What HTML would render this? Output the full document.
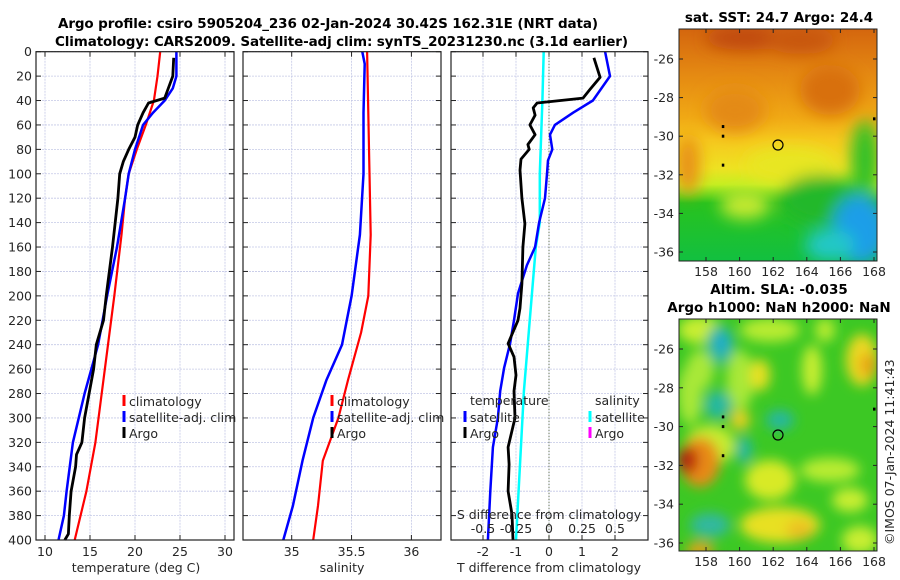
<!DOCTYPE html>
<html><head><meta charset="utf-8"><style>
html,body{margin:0;padding:0;background:#fff;}
svg{display:block;font-family:"DejaVu Sans","Liberation Sans",sans-serif;}
.t{font-size:12.5px;fill:#262626;}
.b{font-size:13.5px;font-weight:bold;fill:#000;}
</style></head><body>
<svg id="fig" width="900" height="580" viewBox="0 0 900 580" xmlns="http://www.w3.org/2000/svg">
<defs>
<filter id="bl" x="-30%" y="-30%" width="160%" height="160%"><feGaussianBlur stdDeviation="8"/></filter>
<filter id="bl2" x="-30%" y="-30%" width="160%" height="160%"><feGaussianBlur stdDeviation="6"/></filter>
<clipPath id="c1"><rect x="679" y="29" width="198" height="232"/></clipPath>
<clipPath id="c2"><rect x="679" y="319" width="198" height="232"/></clipPath>
<linearGradient id="sstg" x1="0" y1="0" x2="0" y2="1">
<stop offset="0" stop-color="#d4660e"/><stop offset="0.2" stop-color="#e58a12"/>
<stop offset="0.38" stop-color="#f0a814"/><stop offset="0.48" stop-color="#f6c81e"/>
<stop offset="0.6" stop-color="#eee222"/><stop offset="0.67" stop-color="#c6ee22"/>
<stop offset="0.75" stop-color="#28c21e"/><stop offset="1" stop-color="#12c040"/>
</linearGradient>
</defs>
<text class="b" x="58" y="28" textLength="540">Argo profile: csiro 5905204_236 02-Jan-2024 30.42S 162.31E (NRT data)</text>
<text class="b" x="55" y="46" textLength="573">Climatology: CARS2009. Satellite-adj clim: synTS_20231230.nc (3.1d earlier)</text>
<g id="g1"></g>
<g id="g2"></g>
<g id="g3"></g>

<g>
<g clip-path="url(#c1)">
<rect x="679" y="29" width="198" height="232" fill="url(#sstg)"/>
<g filter="url(#bl)">
<ellipse cx="745" cy="38" rx="40" ry="12" fill="#c04a0c"/>
<ellipse cx="800" cy="40" rx="35" ry="14" fill="#c8560c"/>
<ellipse cx="830" cy="90" rx="30" ry="25" fill="#d8700e"/>
<ellipse cx="735" cy="110" rx="30" ry="22" fill="#e48a12"/>
<ellipse cx="688" cy="165" rx="12" ry="30" fill="#e89014"/>
<ellipse cx="790" cy="165" rx="45" ry="18" fill="#e8e622"/>
<ellipse cx="820" cy="200" rx="40" ry="25" fill="#20b82a"/>
<ellipse cx="865" cy="160" rx="14" ry="40" fill="#30c028"/>
<ellipse cx="745" cy="205" rx="25" ry="14" fill="#c8ea30"/>
<ellipse cx="860" cy="230" rx="28" ry="35" fill="#1c9ee8"/>
<ellipse cx="830" cy="245" rx="25" ry="16" fill="#20c8c8"/>
</g>
</g>
<rect x="679" y="29" width="198" height="232" fill="none" stroke="#222" stroke-width="1"/>
<circle cx="778" cy="145" r="5" fill="none" stroke="#000" stroke-width="1.2"/>
<text class="b" x="779" y="22" text-anchor="middle">sat. SST: 24.7 Argo: 24.4</text>
</g>

<g>
<g clip-path="url(#c2)">
<rect x="679" y="319" width="198" height="232" fill="#3cc824"/>
<g filter="url(#bl2)">
<ellipse cx="700" cy="330" rx="22" ry="14" fill="#c8ee30"/>
<ellipse cx="720" cy="345" rx="14" ry="20" fill="#28b89c"/>
<ellipse cx="722" cy="343" rx="6" ry="9" fill="#22a8d8"/>
<ellipse cx="770" cy="330" rx="30" ry="12" fill="#b8ec30"/>
<ellipse cx="825" cy="330" rx="10" ry="12" fill="#b8ec30"/>
<ellipse cx="862" cy="360" rx="16" ry="26" fill="#ecd820"/>
<ellipse cx="868" cy="365" rx="8" ry="12" fill="#e8a018"/>
<ellipse cx="740" cy="380" rx="14" ry="30" fill="#a8e838"/>
<ellipse cx="700" cy="370" rx="14" ry="20" fill="#a8e838"/>
<ellipse cx="760" cy="375" rx="10" ry="16" fill="#e8e020"/>
<ellipse cx="812" cy="370" rx="10" ry="25" fill="#c8ee30"/>
<ellipse cx="690" cy="395" rx="12" ry="30" fill="#a8e838"/>
<ellipse cx="718" cy="405" rx="14" ry="14" fill="#28b8a0"/>
<ellipse cx="740" cy="420" rx="10" ry="10" fill="#ecd020"/>
<ellipse cx="780" cy="420" rx="14" ry="10" fill="#28b8a0"/>
<ellipse cx="710" cy="445" rx="25" ry="20" fill="#c8ec30"/>
<ellipse cx="700" cy="462" rx="20" ry="25" fill="#e88a18"/>
<ellipse cx="688" cy="460" rx="10" ry="14" fill="#b8200a"/>
<ellipse cx="744" cy="450" rx="8" ry="14" fill="#28b8a0"/>
<ellipse cx="770" cy="480" rx="25" ry="20" fill="#d8ea28"/>
<ellipse cx="830" cy="470" rx="30" ry="12" fill="#b8ec30"/>
<ellipse cx="850" cy="500" rx="18" ry="12" fill="#c8ee30"/>
<ellipse cx="710" cy="525" rx="20" ry="12" fill="#30b8a0"/>
<ellipse cx="780" cy="525" rx="40" ry="18" fill="#e8e020"/>
<ellipse cx="800" cy="530" rx="14" ry="10" fill="#ecc020"/>
<ellipse cx="700" cy="550" rx="14" ry="8" fill="#e8a018"/>
<ellipse cx="860" cy="540" rx="18" ry="14" fill="#c8ee30"/>
</g>
</g>
<rect x="679" y="319" width="198" height="232" fill="none" stroke="#222" stroke-width="1"/>
<circle cx="778" cy="435" r="5" fill="none" stroke="#000" stroke-width="1.2"/>
<text class="b" x="779" y="294" text-anchor="middle">Altim. SLA: -0.035</text>
<text class="b" x="779" y="312" text-anchor="middle">Argo h1000: NaN h2000: NaN</text>
</g>
<text class="t" transform="translate(894,545) rotate(-90)">©IMOS 07-Jan-2024 11:41:43</text>
<g id="maxes"></g>
</svg>
<script>
// ---- data ----
const tDepthClim = [0,20,40,60,80,100,120,150,200,240,280,320,360,400];
const tClim      = [22.8,22.5,22.1,21.2,20.2,19.3,18.9,18.5,17.7,17.0,16.3,15.6,14.6,13.3];
const tDepthSat  = [0,20,30,40,50,60,80,100,120,160,200,240,280,320,360,380,400];
const tSat       = [24.6,24.6,24.2,23.3,22.0,20.9,20.0,19.3,18.9,18.0,16.9,15.9,14.4,13.1,12.4,12.1,11.5];
const tDepthArgo = [5,20,30,38,42,50,60,70,80,90,100,120,160,200,220,240,260,280,300,320,330,340,360,380,395,400];
const tArgo      = [24.3,24.2,23.7,23.3,21.5,20.9,20.3,20.0,19.3,18.7,18.3,18.1,17.5,16.8,16.5,15.7,15.4,14.9,14.4,14.1,13.5,13.4,12.9,12.7,12.6,12.2];
const sDepthClim = [0,50,100,150,200,230,269,300,335,372,400];
const sClim      = [35.63,35.64,35.65,35.66,35.64,35.58,35.47,35.39,35.26,35.22,35.18];
const sDepthSat  = [0,10,50,100,150,200,220,240,269,300,335,372,400];
const sSat       = [35.59,35.61,35.6,35.6,35.57,35.5,35.46,35.42,35.29,35.18,35.09,35.01,34.93];
const dDepthSatT = [0,20,40,50,60,68,80,89,100,120,140,160,175,198,220,239,259,278,300,324,360,400];
const dSatT      = [1.7,1.85,1.33,0.73,0.18,0.03,0.1,-0.03,-0.06,-0.12,-0.3,-0.42,-0.67,-0.94,-1.06,-1.18,-1.36,-1.48,-1.55,-1.7,-1.78,-1.85];
const dDepthArgoT= [5,21,31,38,42,46,52,60,68,76,80,88,97,120,141,160,190,210,220,239,250,265,278,300,324,338,360,379,400];
const dArgoT     = [1.36,1.55,1.24,1.03,-0.36,-0.48,-0.42,-0.58,-0.42,-0.64,-0.6,-0.85,-0.88,-0.82,-0.73,-0.79,-0.82,-0.88,-0.94,-1.24,-1.06,-1.0,-1.06,-1.03,-1.24,-1.21,-1.24,-1.12,-1.09];
const dDepthSatS = [0,40,100,140,160,278,400];
const dSatS      = [-0.04,-0.05,-0.07,-0.07,-0.1,-0.19,-0.25];
const depthTicks = [0,20,40,60,80,100,120,140,160,180,200,220,240,260,280,300,320,340,360,380,400];
const tTicks = [10,15,20,25,30];
const sTicks = [35,35.5,36];
const sTickLabels = ["35","35.5","36"];
const dTTicks = [-2,-1,0,1,2];
const dSTicks = [-0.5,-0.25,0,0.25,0.5];
const dSTickLabels = ["-0.5","-0.25","0","0.25","0.5"];
const latTicks = [-26,-28,-30,-32,-34,-36];
const lonTicks = [158,160,162,164,166,168];

const NS='http://www.w3.org/2000/svg';
function mk(tag, attrs, parent){const e=document.createElementNS(NS,tag);for(const k in attrs)e.setAttribute(k,attrs[k]);parent.appendChild(e);return e;}
const Y0=51.7, YS=1.2208, BOT=540;
const yD = d => Y0 + d*YS;
const xT = v => 45 + (v-10)*9;
const xS = v => 291.7 + (v-35)*119.7;
const xDT = v => 549 + v*33;
const xDS = v => 549 + v*132;

function panel(g, x0, x1, name){
  for (const d of depthTicks){
    const l = mk('line',{x1:x0,x2:x1,y1:yD(d),y2:yD(d),stroke:'#c4c8e6','stroke-width':0.8,'stroke-dasharray':'2,1'},g);
    
    
    const t1 = mk('line',{x1:x0,x2:x0+5,y1:yD(d),y2:yD(d),stroke:'#222'},g);
    
    
    const t2 = mk('line',{x1:x1-5,x2:x1,y1:yD(d),y2:yD(d),stroke:'#222'},g);
    
    
  }
}
function vgrid(g, xs, name){
  for (const x of xs){
    const l = mk('line',{x1:x,x2:x,y1:Y0,y2:BOT,stroke:'#c4c8e6','stroke-width':0.8,'stroke-dasharray':'2,1'},g);
    
    
    const a = mk('line',{x1:x,x2:x,y1:BOT-5,y2:BOT,stroke:'#222'},g);
    
    
    const b = mk('line',{x1:x,x2:x,y1:Y0,y2:Y0+5,stroke:'#222'},g);
    
    
  }
}
function box(g,x0,x1){
  const r = mk('rect',{x:x0,y:Y0,width:x1-x0,height:BOT-Y0,fill:'none',stroke:'#222','stroke-width':1.2},g);
  
  
}
function line(g, depths, vals, xf, color, w, name){
  const pts = depths.map((d,i)=>xf(vals[i]).toFixed(1)+','+yD(d).toFixed(1)).join(' ');
  const p = mk('polyline',{points:pts,fill:'none',stroke:color,'stroke-width':w,'stroke-linejoin':'round'},g);
  
  
}
function text(g,x,y,s,anchor,name,cls){
  const t = mk('text',{x:x,y:y,'text-anchor':anchor||'start',class:cls||'t'},g);
  t.textContent=s;
  
  
  return t;
}
function legend(g,x,y,color,label,name){
  const m = mk('rect',{x:x-1.5,y:y-11,width:3,height:11,fill:color},g);
  
  
  text(g,x+5,y,label,'start',name);
}

// Panel 1
const g1=document.getElementById('g1');
panel(g1,36,234); vgrid(g1,tTicks.map(xT));
line(g1,tDepthClim,tClim,xT,'#ff0000',2.2,'temperature-climatology-line');
line(g1,tDepthSat,tSat,xT,'#0000ff',2.5,'temperature-satellite-line');
line(g1,tDepthArgo,tArgo,xT,'#000000',2.8,'temperature-argo-line');
box(g1,36,234);
depthTicks.forEach(d=>text(g1,32,yD(d)+4.5,String(d),'end','depth-tick-label'));
tTicks.forEach(v=>text(g1,xT(v),556,String(v),'middle','temperature-tick-label'));
text(g1,136,572,'temperature (deg C)','middle','temperature-axis-title');
legend(g1,124,406,'#ff0000','climatology','legend-climatology');
legend(g1,124,422,'#0000ff','satellite-adj. clim','legend-satellite-adj');
legend(g1,124,438,'#000000','Argo','legend-argo');

// Panel 2
const g2=document.getElementById('g2');
panel(g2,243,441); vgrid(g2,sTicks.map(xS));
line(g2,sDepthClim,sClim,xS,'#ff0000',2.2,'salinity-climatology-line');
line(g2,sDepthSat,sSat,xS,'#0000ff',2.5,'salinity-satellite-line');
box(g2,243,441);
sTicks.forEach((v,i)=>text(g2,xS(v),556,sTickLabels[i],'middle','salinity-tick-label'));
text(g2,342,572,'salinity','middle','salinity-axis-title');
legend(g2,332,406,'#ff0000','climatology','legend-climatology');
legend(g2,332,422,'#0000ff','satellite-adj. clim','legend-satellite-adj');
legend(g2,332,438,'#000000','Argo','legend-argo');

// Panel 3
const g3=document.getElementById('g3');
panel(g3,451,648); vgrid(g3,dTTicks.map(xDT));
const zl = mk('line',{x1:xDT(0),x2:xDT(0),y1:Y0,y2:BOT,stroke:'#4a5a30','stroke-width':1,'stroke-dasharray':'1,2'},g3);


line(g3,dDepthSatS,dSatS,xDS,'#00ffff',2.5,'salinity-diff-satellite-line');
line(g3,dDepthSatT,dSatT,xDT,'#0000ff',2.5,'temperature-diff-satellite-line');
line(g3,dDepthArgoT,dArgoT,xDT,'#000000',2.8,'temperature-diff-argo-line');
box(g3,451,648);
dTTicks.forEach(v=>text(g3,xDT(v),556,String(v),'middle','t-diff-tick-label'));
text(g3,549,572,'T difference from climatology','middle','t-diff-axis-title');
dSTicks.forEach((v,i)=>text(g3,xDS(v),533,dSTickLabels[i],'middle','s-diff-tick-label'));
text(g3,549,519,'S difference from climatology','middle','s-diff-axis-title');
text(g3,470,405,'temperature','start','legend-temperature-header');
legend(g3,465,422,'#0000ff','satellite','legend-t-satellite');
legend(g3,465,438,'#000000','Argo','legend-t-argo');
text(g3,595,405,'salinity','start','legend-salinity-header');
legend(g3,590,422,'#00ffff','satellite','legend-s-satellite');
legend(g3,590,438,'#ff00ff','Argo','legend-s-argo');

// Map axes
const ma=document.getElementById('maxes');
const xLon = v => 706 + (v-158)*16.8;
[[29,261,59,252],[319,551,349,543]].forEach(([top,bot,l26,l36])=>{
  const yLat = v => l26 + (v+26)*(l36-l26)/(-10);
  latTicks.forEach(v=>{
    const a = mk('line',{x1:679,x2:683,y1:yLat(v),y2:yLat(v),stroke:'#222'},ma);
    
    
    const b = mk('line',{x1:873,x2:877,y1:yLat(v),y2:yLat(v),stroke:'#222'},ma);
    
    
    text(ma,674,yLat(v)+4.5,String(v),'end','lat-tick-label');
  });
  lonTicks.forEach(v=>{
    const a = mk('line',{x1:xLon(v),x2:xLon(v),y1:bot-4,y2:bot,stroke:'#222'},ma);
    
    
    const b = mk('line',{x1:xLon(v),x2:xLon(v),y1:top,y2:top+4,stroke:'#222'},ma);
    
    
    text(ma,xLon(v),bot+15,String(v),'middle','lon-tick-label');
  });
  [[159,-29.5],[159,-30],[159,-31.5],[168,-29.1]].forEach(([lo,la])=>{
    const r = mk('rect',{x:xLon(lo)-1,y:yLat(la)-1.5,width:2.5,height:3,fill:'#000'},ma);
    
    
  });
});
</script>
</body></html>
